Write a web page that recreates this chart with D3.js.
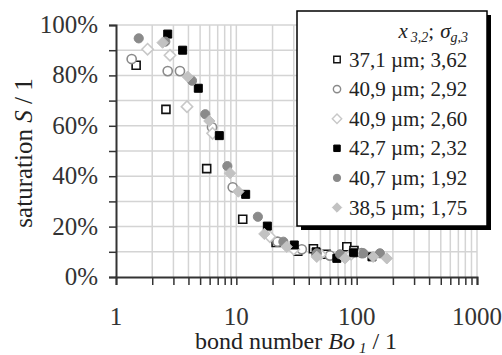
<!DOCTYPE html>
<html><head><meta charset="utf-8">
<script src="https://cdn.jsdelivr.net/npm/d3@7"></script>
</head><body style="margin:0">
<script>
// ---- data ----
const seriesLabels = ["37,1 µm; 3,62","40,9 µm; 2,92","40,9 µm; 2,60","42,7 µm; 2,32","40,7 µm; 1,92","38,5 µm; 1,75"];
const boA = [1.47,2.60,5.67,11.3,21.4,32.4,43.7,55.7,82.8,95];
const sA  = [0.84,0.665,0.43,0.229,0.137,0.102,0.112,0.09,0.12,0.105];
const boB = [1.35,2.69,3.40,6.28,9.33,22,35,60,110];
const sB  = [0.865,0.817,0.817,0.594,0.356,0.14,0.11,0.085,0.095];
const boC = [1.83,2.81,3.89,6.35,19,30,50,90];
const sC  = [0.904,0.88,0.676,0.57,0.16,0.11,0.09,0.09];
const boD = [2.69,3.58,4.83,7.22,11.96,18.1,30.3,46,68.4,93.9,134];
const sD  = [0.964,0.90,0.749,0.561,0.328,0.202,0.127,0.10,0.074,0.096,0.08];
const boE = [1.545,2.57,4.28,5.52,8.42,15.1,24.6,46.6,72.8,113.6,156];
const sE  = [0.947,0.934,0.779,0.646,0.44,0.239,0.14,0.094,0.09,0.094,0.094];
const boF = [2.44,3.94,5.97,8.87,10.4,17.1,26.2,46.6,80.1,137,178];
const sF  = [0.93,0.795,0.619,0.412,0.339,0.171,0.12,0.08,0.074,0.08,0.074];
const xTickLabels = ["1","10","100","1000"];
const yTickLabels = ["0%","20%","40%","60%","80%","100%"];

const FONT="Liberation Serif";
const W=502,H=355;
const svg=d3.select("body").append("svg").attr("width",W).attr("height",H)
  .attr("font-family",FONT).style("display","block");
const x=d3.scaleLog().domain([1,1000]).range([116,477]);
const y=d3.scaleLinear().domain([0,1]).range([277,25]);

// grid
const xGrid=[];
for(let d=1; d<1000; d*=10){ for(let k=2;k<=10;k++) xGrid.push(d*k); }
const yGrid=d3.range(1,11).map(i=>i/10);
svg.append("g").selectAll("line").data(xGrid).join("line")
  .attr("x1",d=>x(d)).attr("x2",d=>x(d)).attr("y1",y(0)).attr("y2",y(1))
  .attr("stroke","#d4d4d4").attr("stroke-width",1.5);
svg.append("g").selectAll("line").data(yGrid).join("line")
  .attr("x1",x(1)).attr("x2",x(1000)).attr("y1",d=>y(d)).attr("y2",d=>y(d))
  .attr("stroke","#d4d4d4").attr("stroke-width",1.5);

// axes
const xAxis=d3.axisBottom(x).tickValues([1].concat(xGrid)).tickSize(8).tickFormat("");
const gx=svg.append("g").attr("transform",`translate(0,${y(0)})`).call(xAxis);
const yAxis=d3.axisLeft(y).tickValues(d3.range(0,11).map(i=>i/10)).tickSize(7).tickFormat("");
const gy=svg.append("g").attr("transform",`translate(${x(1)},0)`).call(yAxis);
[gx,gy].forEach(g=>{g.select(".domain").attr("stroke","#333").attr("stroke-width",2);
  g.selectAll(".tick line").attr("stroke","#333").attr("stroke-width",1.5);});

// tick labels
svg.append("g").selectAll("text").data(xTickLabels).join("text")
  .attr("x",d=>x(+d)).attr("y",325).attr("text-anchor","middle").style("font-family",FONT)
  .attr("font-size",25).attr("fill","#333").text(d=>d);
svg.append("g").selectAll("text").data(yTickLabels).join("text")
  .attr("x",98).attr("y",d=>y(parseFloat(d)/100)+8).attr("text-anchor","end").style("font-family",FONT)
  .attr("font-size",25).attr("fill","#333").text(d=>d);

// axis titles
const xt=svg.append("text").attr("x",296).attr("y",349).attr("text-anchor","middle").style("font-family",FONT)
  .attr("font-size",24).attr("fill","#222");
xt.append("tspan").text("bond number ");
xt.append("tspan").attr("font-style","italic").text("Bo");
xt.append("tspan").attr("font-style","italic").attr("font-size",15).attr("dy",4).attr("dx",4).text("1");
xt.append("tspan").attr("dy",-4).attr("dx",6).text("/ 1");
const yt=svg.append("text").attr("transform","translate(32,153) rotate(-90)").attr("text-anchor","middle")
  .style("font-family",FONT).attr("font-size",25).attr("fill","#222");
yt.append("tspan").text("saturation ");
yt.append("tspan").attr("font-style","italic").text("S");
yt.append("tspan").text(" / 1");

// series definitions
const series=[
  {bo:boA,s:sA,shape:"square",fill:"#fff",stroke:"#111"},
  {bo:boB,s:sB,shape:"circle",fill:"#fff",stroke:"#8a8a8a"},
  {bo:boC,s:sC,shape:"diamond",fill:"#fff",stroke:"#c8c8c8"},
  {bo:boD,s:sD,shape:"square",fill:"#000",stroke:"#000"},
  {bo:boE,s:sE,shape:"circle",fill:"#8a8a8a",stroke:"#8a8a8a"},
  {bo:boF,s:sF,shape:"diamond",fill:"#c2c2c2",stroke:"#c2c2c2"}
];
const symDiamond={draw(ctx,size){const r=Math.sqrt(size/2);ctx.moveTo(0,-r);ctx.lineTo(r,0);ctx.lineTo(0,r);ctx.lineTo(-r,0);ctx.closePath();}};
const symType={square:d3.symbolSquare,circle:d3.symbolCircle,diamond:symDiamond};
const symSize={square:64,circle:66,diamond:64};
series.forEach(sr=>{
  const pts=sr.bo.map((b,i)=>[b,sr.s[i]]);
  svg.append("g").selectAll("path").data(pts).join("path")
    .attr("transform",d=>`translate(${x(d[0])},${y(d[1])})`)
    .attr("d",d3.symbol().type(symType[sr.shape]).size(symSize[sr.shape]))
    .attr("fill",sr.fill).attr("stroke",sr.stroke).attr("stroke-width",sr.fill==="#fff"?1.6:1);
});

// legend
const lg=svg.append("g");
lg.append("rect").attr("x",301).attr("y",15).attr("width",190).attr("height",215).attr("fill","#000");
lg.append("rect").attr("x",297).attr("y",11).attr("width",190).attr("height",215)
  .attr("fill","#fff").attr("stroke","#000").attr("stroke-width",1.5);
const hd=lg.append("text").attr("x",468).attr("y",38).attr("text-anchor","end").style("font-family",FONT)
  .attr("font-size",21).attr("fill","#222").attr("font-style","italic");
hd.append("tspan").text("x");
hd.append("tspan").attr("font-size",14).attr("dy",4).attr("dx",3).text("3,2");
hd.append("tspan").attr("font-style","normal").attr("dy",-4).text(";");
hd.append("tspan").attr("dx",6).text("σ");
hd.append("tspan").attr("font-size",14).attr("dy",4).text("g,3");
const rows=d3.range(6);
rows.forEach(i=>{
  const sr=series[i], yy=59.5+i*29.6;
  lg.append("path").attr("transform",`translate(337,${yy})`)
    .attr("d",d3.symbol().type(symType[sr.shape]).size(sr.shape==="diamond"?44:42))
    .attr("fill",sr.fill).attr("stroke",sr.stroke).attr("stroke-width",sr.fill==="#fff"?1.4:1);
  lg.append("text").attr("x",349).attr("y",yy+7).style("font-family",FONT)
    .attr("font-size",21).attr("fill","#222").text(seriesLabels[i]);
});
</script>
</body></html>
